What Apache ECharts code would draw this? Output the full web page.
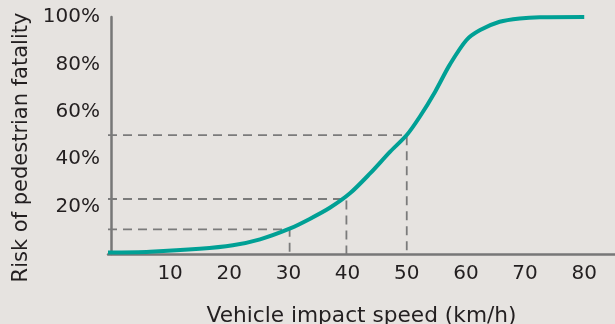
<!DOCTYPE html>
<html>
<head>
<meta charset="utf-8">
<script src="https://cdn.jsdelivr.net/npm/echarts@6/dist/echarts.min.js"></script>
<style>
html,body{margin:0;padding:0;background:#e6e3e0;}
#chart{width:615px;height:324px;}
</style>
</head>
<body>
<div id="chart"></div>
<script>
// Curve: vehicle impact speed (km/h) vs risk of pedestrian fatality (%)
const speeds = [-0.5, 6.6, 15, 20.6, 25.2, 30.3, 33.6, 37.0, 40.4, 43.8, 47.2, 50.0, 52.2, 54.8, 57.3, 60.1, 62.4, 65.7, 69.1, 72.5, 80];
const risks  = [0.6, 1.0, 2.2, 3.7, 6.2, 10.8, 14.8, 19.5, 25.6, 34.0, 43.2, 50.2, 57.9, 68.5, 80.0, 90.3, 94.5, 98.0, 99.4, 99.9, 100];
// Reference (dashed) markers
const refSpeeds = [30.2, 39.8, 50.0];
const refRisks = [10.4, 23.2, 50.2];
// Tick labels
const xTicks = [10, 20, 30, 40, 50, 60, 70, 80];
const yTicks = [20, 40, 60, 80, 100];

const FONT = 'DejaVu Sans';
const TEXT = '#231f20';
const AXIS = '#777777';
const xMin = -0.5;

const curve = speeds.map((s, i) => [s, risks[i]]);
const refSeries = refSpeeds.map((s, i) => ({
  type: 'line',
  data: [[xMin, refRisks[i]], [s, refRisks[i]], [s, 0]],
  symbol: 'none',
  silent: true,
  lineStyle: {color: '#7b7b7b', width: 1.8, type: [9, 6]},
  z: 1
}));

const chart = echarts.init(document.getElementById('chart'));
chart.setOption({
  backgroundColor: '#e6e3e0',
  animation: false,
  grid: {left: 108, right: 0, top: 17, bottom: 70, containLabel: false, outerBoundsMode: 'none'},
  xAxis: {
    type: 'value',
    min: xMin,
    max: 85.2,
    splitLine: {show: false},
    axisLine: {lineStyle: {color: AXIS, width: 2.5}},
    axisTick: {show: false},
    axisLabel: {
      customValues: xTicks,
      color: TEXT, fontFamily: FONT, fontSize: 20, margin: 10
    },
    name: 'Vehicle impact speed (km/h)',
    nameLocation: 'middle',
    nameGap: 51,
    nameTextStyle: {color: TEXT, fontFamily: FONT, fontSize: 21.7}
  },
  yAxis: {
    type: 'value',
    min: 0,
    max: 100,
    splitLine: {show: false},
    axisLine: {show: true, lineStyle: {color: AXIS, width: 2.5}},
    axisTick: {show: false},
    axisLabel: {
      customValues: yTicks,
      formatter: '{value}%',
      color: TEXT, fontFamily: FONT, fontSize: 20, margin: 8,
      padding: [5, 0, 0, 0]
    },
    name: 'Risk of pedestrian fatality',
    nameLocation: 'middle',
    nameRotate: 90,
    nameGap: 71,
    nameTextStyle: {color: TEXT, fontFamily: FONT, fontSize: 21, padding: [0, 24, 0, 0]}
  },
  series: refSeries.concat([{
    type: 'line',
    data: curve,
    symbol: 'none',
    smooth: 0.3,
    lineStyle: {color: '#00a095', width: 4},
    z: 3
  }])
});
</script>
</body>
</html>
